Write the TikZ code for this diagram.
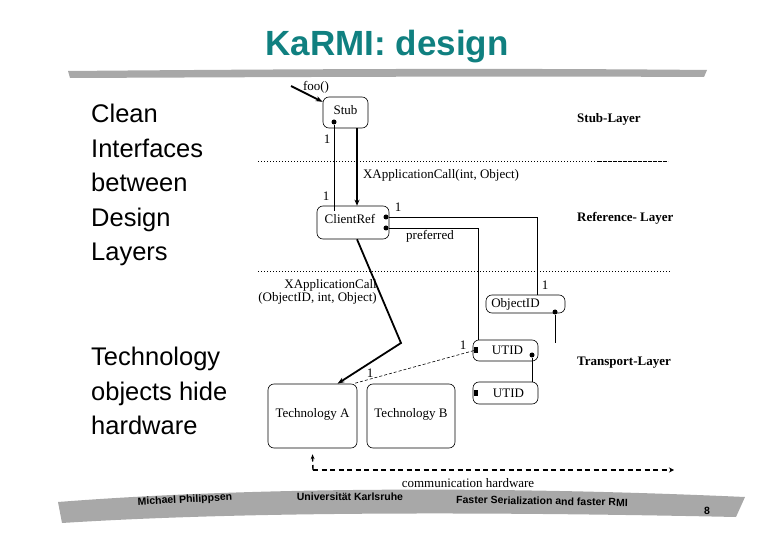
\documentclass[tikz,border=0pt]{standalone}
\usepackage{fontspec}
\setmainfont{Liberation Serif}
\newfontfamily\sansf{Liberation Sans}
\usetikzlibrary{arrows.meta}
\definecolor{titleteal}{RGB}{16,128,128}
\definecolor{bandgray}{RGB}{168,168,168}
\begin{document}
\begin{tikzpicture}[x=1pt,y=-1pt,
  box/.style={draw, rounded corners=6pt, line width=0.6pt, inner sep=0pt, font=\fontsize{13}{13}\selectfont},
  lbl/.style={font=\fontsize{13}{13}\selectfont, inner sep=1pt},
  layer/.style={font=\bfseries\fontsize{13}{13}\selectfont, anchor=west, inner sep=0pt},
  bullet/.style={font=\sansf\fontsize{25.5}{34.5}\selectfont, align=left, anchor=north west, inner sep=0pt},
  foot/.style={font=\sansf\bfseries\fontsize{10.5}{10.5}\selectfont, inner sep=0pt},
  conn/.style={line width=0.6pt},
  heavy/.style={line width=1.8pt},
  sep/.style={line width=0.8pt, dash pattern=on 1pt off 2pt},
  dot/.style={circle, fill, inner sep=0pt, minimum size=5pt},
  sq/.style={rectangle, fill, inner sep=0pt, minimum width=4pt, minimum height=6pt},
  commline/.style={line width=1.4pt, dash pattern=on 5pt off 3.5pt}
]
\useasboundingbox (0,0) rectangle (780,540);

% title and bands
\node[font=\sansf\bfseries\fontsize{35}{35}\selectfont, text=titleteal, inner sep=0pt] (title) at (387,47) {KaRMI: design};
\fill[bandgray] (68,71) .. controls (300,69) and (500,68) .. (707,70) -- (704,77) .. controls (500,76) and (300,77) .. (70,78) -- cycle;
\fill[bandgray] (58,502) .. controls (250,487) and (500,486) .. (745,497) -- (736,517) .. controls (500,512) and (250,511) .. (62,523) -- cycle;

% left texts
\node[bullet] (b1) at (91,104) {Clean\\Interfaces\\between\\Design\\Layers};
\node[bullet] (b2) at (91,347) {Technology\\objects hide\\hardware};

% footer texts
\node[foot, rotate=3] (f1) at (185,500) {Michael Philippsen};
\node[foot] (f2) at (350,497) {Universität Karlsruhe};
\node[foot, rotate=-1] (f3) at (542,501) {Faster Serialization and faster RMI};
\node[foot] (f4) at (707,511) {8};

% separators
\draw[sep] (258,161) -- (598,161);
\draw[line width=0.8pt, dash pattern=on 4pt off 1pt] (598,161) -- (668,161);
\draw[sep] (258,271) -- (670,271);

% layer labels
\node[layer] (l1) at (577,119) {Stub-Layer};
\node[layer] (l2) at (577,218) {Reference- Layer};
\node[layer] (l3) at (577,363) {Transport-Layer};

% boxes
\node[box, minimum width=45pt, minimum height=31pt] (stub) at (345.5,112.5) {Stub\rule[-6pt]{0pt}{0pt}};
\node[box, minimum width=72pt, minimum height=33pt] (cr) at (353,222.5) {ClientRef\hspace*{6pt}\rule[-8pt]{0pt}{0pt}};
\node[box, minimum width=79pt, minimum height=18pt] (objid) at (525.5,304) {ObjectID\hspace*{20pt}};
\node[box, minimum width=65pt, minimum height=21pt] (utid1) at (505.5,350.5) {\hspace*{4pt}UTID};
\node[box, minimum width=65pt, minimum height=22pt] (utid2) at (505.5,393) {\hspace*{6pt}UTID};
\node[box, minimum width=89pt, minimum height=64pt] (techA) at (312.5,416) {Technology A\rule[-6pt]{0pt}{0pt}};
\node[box, minimum width=88pt, minimum height=64pt] (techB) at (411,416) {Technology B\rule[-6pt]{0pt}{0pt}};

% markers
\node[dot] (sd) at (334,122) {};
\node[dot] (crd1) at (386,217) {};
\node[dot] (crd2) at (386,228) {};
\node[dot] (od) at (555,312) {};
\node[dot] (u1d) at (532,355) {};
\node[sq] (u1s) at (476,350) {};
\node[sq] (u2s) at (476,393) {};

% texts
\node[lbl] (foo) at (316,87) {foo()};
\node[lbl] (xac1) at (441,175) {XApplicationCall(int, Object)};
\node[lbl, align=right, anchor=east] (xac2) at (378,292) {XApplicationCall\\(ObjectID, int, Object)};
\node[lbl] (pref) at (430,236) {preferred};
\node[lbl] (n1) at (327,139) {1};
\node[lbl] (n2) at (326,196) {1};
\node[lbl] (n3) at (398,207) {1};
\node[lbl] (n4) at (545,285) {1};
\node[lbl] (n5) at (463,345) {1};
\node[lbl] (n6) at (370,373) {1};
\node[lbl] (comm) at (468,483) {communication hardware};

% coordinates
\coordinate (foostart) at (291,86);
\coordinate (bend) at (401,343);
\coordinate (odend) at (555,343);
\coordinate (commC) at (313,470);
\coordinate (commR) at (674,470);

% connectors
\draw[heavy, -{Stealth[length=7pt,width=5pt]}] (foostart) -- (stub.155);
\draw[conn] (sd) -- ([xshift=-19pt,yshift=-5pt]cr.north);
\draw[heavy, -{Stealth[length=6pt,width=5pt]}] ([xshift=11.5pt]stub.south) -- ([xshift=4pt]cr.north);
\draw[conn] (crd1) -| ([xshift=11.5pt]objid.north);
\draw[conn] (crd2) -| ([xshift=-27pt]utid1.north);
\draw[conn] (od) -- (odend);
\draw[conn] (u1d) -- (u1d |- utid2.north);
\draw[conn, dash pattern=on 3pt off 2pt] (u1s) -- ([xshift=-4pt]techA.north east);
\draw[heavy, -{Stealth[length=7pt,width=5pt]}] ([xshift=4pt]cr.south) -- (bend) -- ([xshift=25pt]techA.north);
\draw[commline, -{Stealth[length=5pt,width=5pt,open]}] (commC) -- (commR);
\draw[commline, -{Stealth[length=5pt,width=4pt,open]}] (commC) -- ([yshift=-6pt]techA.south);
\end{tikzpicture}
\end{document}
